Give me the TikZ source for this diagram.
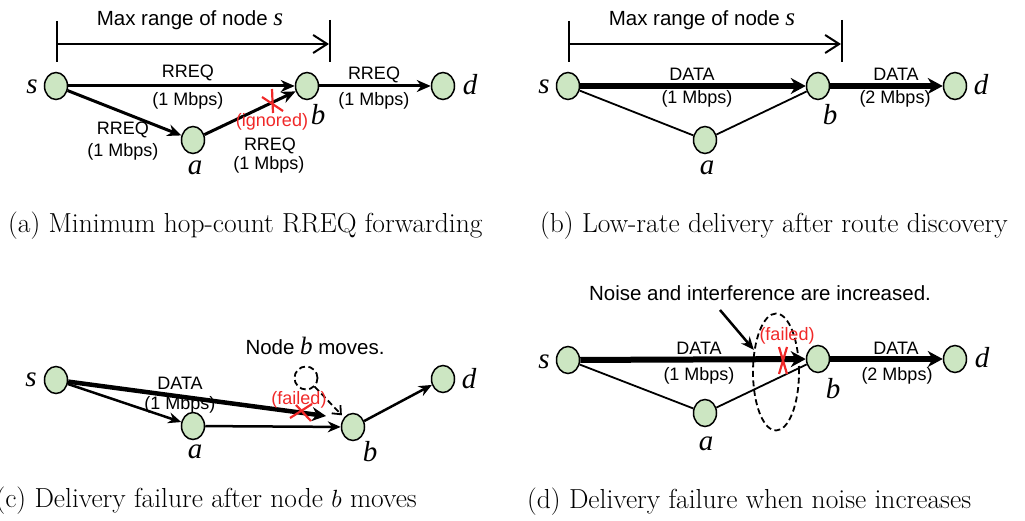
\documentclass[tikz,border=0pt]{standalone}
\usepackage{fontspec}
\usetikzlibrary{shapes.geometric,arrows.meta}
\newfontfamily\sansf{Liberation Sans}
\newfontfamily\timesf{Liberation Serif}
\definecolor{ngreen}{RGB}{204,230,194}
\definecolor{xred}{RGB}{240,40,40}
\tikzset{
  nd/.style={ellipse,draw,line width=1.5pt,fill=ngreen,minimum width=23pt,minimum height=27pt,inner sep=0pt},
  nm/.style={font=\fontsize{29}{30}\selectfont\timesf\itshape,inner sep=0pt},
  lb/.style={font=\fontsize{18}{19}\selectfont\sansf,inner sep=0pt},
  rlb/.style={lb,text=xred},
  big/.style={font=\fontsize{20.5}{22}\selectfont\sansf,inner sep=0pt},
  capt/.style={font=\fontsize{27.5}{29}\selectfont,inner sep=0pt},
  arr/.style={line width=3pt,-{Stealth[length=14pt,width=12pt]}},
  carr/.style={line width=2.5pt,-{Stealth[length=13pt,width=11pt]}},
  tharr/.style={line width=6pt,-{Stealth[length=15pt,width=16pt]}},
  cthick/.style={line width=4.5pt,-{Stealth[length=14pt,width=14pt]}},
  thinl/.style={line width=1.8pt},
  xmark/.style={draw=xred,line width=2.2pt},
  tick/.style={line width=1.5pt},
  rngarr/.style={line width=2pt,-{Straight Barb[length=14pt,width=18pt]}},
  dsh/.style={dashed,dash pattern=on 6pt off 3.5pt,line width=1.8pt}
}
\begin{document}
\begin{tikzpicture}[x=1pt,y=-1pt]
\useasboundingbox (0,0) rectangle (1025,521);

% ---------------- panel (a) ----------------
\coordinate (aT1a) at (57,21); \coordinate (aT1b) at (57,62);
\coordinate (aT2a) at (330,20); \coordinate (aT2b) at (330,62);
\coordinate (aR1) at (57,44); \coordinate (aR2) at (329,44);
\draw[tick] (aT1a) -- (aT1b);
\draw[tick] (aT2a) -- (aT2b);
\draw[rngarr] (aR1) -- (aR2);
\node[big,anchor=base] (amax) at (190,26) {Max range of node {\timesf\itshape\fontsize{25}{25}\selectfont s}};

\node[nd] (as) at (56,86) {};
\node[nd] (ab) at (307,86) {};
\node[nd] (ad) at (443,86) {};
\node[nd] (aa) at (193,140) {};
\draw[arr] (as) -- (ab);
\draw[arr] (as) -- (aa);
\draw[arr] (aa) -- (ab);
\draw[arr] (ab) -- (ad);
\node[nm] (asl) at (32,87) {s};
\node[nm] (abl) at (318,115) {b};
\node[nm] (adl) at (470,85) {d};
\node[nm] (aal) at (195,168) {a};
\node[lb] (al1) at (188,73) {RREQ};
\node[lb] (al2) at (188,101) {(1 Mbps)};
\node[lb] (al3) at (123,130) {RREQ};
\node[lb] (al4) at (123,152) {(1 Mbps)};
\node[rlb] (al5) at (272,122) {(ignored)};
\node[lb] (al6) at (270,146) {RREQ};
\node[lb] (al7) at (269,165) {(1 Mbps)};
\node[lb] (al8) at (374,75) {RREQ};
\node[lb] (al9) at (374,101) {(1 Mbps)};
\coordinate (ax1) at (262,97); \coordinate (ax2) at (283,111);
\coordinate (ax3) at (272,89); \coordinate (ax4) at (273,113);
\draw[xmark] (ax1) -- (ax2);
\draw[xmark] (ax3) -- (ax4);
\node[capt,anchor=base west] (acap) at (8,233) {(a) Minimum hop-count RREQ forwarding};

% ---------------- panel (b) ----------------
\coordinate (bT1a) at (569,21); \coordinate (bT1b) at (569,62);
\coordinate (bT2a) at (842,20); \coordinate (bT2b) at (842,62);
\coordinate (bR1) at (569,44); \coordinate (bR2) at (841,44);
\draw[tick] (bT1a) -- (bT1b);
\draw[tick] (bT2a) -- (bT2b);
\draw[rngarr] (bR1) -- (bR2);
\node[big,anchor=base] (bmax) at (702,26) {Max range of node {\timesf\itshape\fontsize{25}{25}\selectfont s}};

\node[nd] (bs) at (568,86) {};
\node[nd] (bb) at (818,86) {};
\node[nd] (bd) at (955,86) {};
\node[nd] (ba) at (705,140) {};
\draw[thinl] (bs) -- (ba);
\draw[thinl] (ba) -- (bb);
\draw[tharr] (bs) -- (bb);
\draw[tharr] (bb) -- (bd);
\node[nm] (bsl) at (544,87) {s};
\node[nm] (bbl) at (830,115) {b};
\node[nm] (bdl) at (981,85) {d};
\node[nm] (bal) at (707,168) {a};
\node[lb] (bl1) at (692,74) {DATA};
\node[lb] (bl2) at (697,99) {(1 Mbps)};
\node[lb] (bl3) at (896,74) {DATA};
\node[lb] (bl4) at (895,99) {(2 Mbps)};
\node[capt,anchor=base west] (bcap) at (540,233) {(b) Low-rate delivery after route discovery};

% ---------------- panel (c) ----------------
\node[nd] (cs) at (56,380) {};
\node[nd] (ca) at (193,426) {};
\node[nd] (cb) at (353,427) {};
\node[nd] (cd) at (443,379) {};
\node[circle,draw,dsh,minimum size=23pt,inner sep=0pt] (cold) at (306,378) {};
\coordinate (cfail) at (326,416);
\draw[cthick] (cs) -- (cfail);
\draw[carr] (cs) -- (ca);
\draw[carr] (ca) -- (cb);
\draw[carr] (cb) -- (cd);
\draw[dsh,-{Straight Barb[length=7pt,width=12pt]},shorten >=3pt] (cold.south east) -- (cb);
\node[nm] (csl) at (31,380) {s};
\node[nm] (cal) at (195,452) {a};
\node[nm] (cbl) at (370,452) {b};
\node[nm] (cdl) at (469,379) {d};
\node[lb] (cl1) at (180,383) {DATA};
\node[lb] (cl2) at (180,405) {(1 Mbps)};
\node[rlb] (cl3) at (299,400) {(failed)};
\node[big] (cmove) at (315,346) {Node {\timesf\itshape\fontsize{25}{25}\selectfont b} moves.};
\coordinate (cx1) at (290,418); \coordinate (cx2) at (312,404);
\coordinate (cx3) at (296,405); \coordinate (cx4) at (311,421);
\draw[xmark] (cx1) -- (cx2);
\draw[xmark] (cx3) -- (cx4);
\node[capt,anchor=base east] (ccap) at (417,507) {(c) Delivery failure after node $b$ moves};

% ---------------- panel (d) ----------------
\node[nd] (ds) at (568,360) {};
\node[nd] (db) at (818,359) {};
\node[nd] (dd) at (955,359) {};
\node[nd] (da) at (705,413) {};
\draw[thinl] (ds) -- (da);
\draw[thinl] (da) -- (db);
\draw[tharr] (ds) -- (db);
\draw[tharr] (db) -- (dd);
\node[ellipse,draw,dsh,minimum width=46pt,minimum height=117pt,inner sep=0pt] (dnoise) at (776,372) {};
\node[big] (dtxt) at (760,293) {Noise and interference are increased.};
\coordinate (dstart) at (720,310);
\draw[carr] (dstart) -- (dnoise.135);
\node[nm] (dsl) at (544,362) {s};
\node[nm] (dbl) at (833,389) {b};
\node[nm] (ddl) at (982,358) {d};
\node[nm] (dal) at (706,444) {a};
\node[lb] (dl1) at (699,348) {DATA};
\node[lb] (dl2) at (699,376) {(1 Mbps)};
\node[lb] (dl3) at (896,348) {DATA};
\node[lb] (dl4) at (897,376) {(2 Mbps)};
\node[rlb] (dl5) at (787,336) {(failed)};
\coordinate (dx1) at (779,347); \coordinate (dx2) at (787,374);
\coordinate (dx3) at (787,347); \coordinate (dx4) at (779,374);
\draw[xmark] (dx1) -- (dx2);
\draw[xmark] (dx3) -- (dx4);
\node[capt,anchor=base west] (dcap) at (527,508) {(d) Delivery failure when noise increases};
\end{tikzpicture}
\end{document}
